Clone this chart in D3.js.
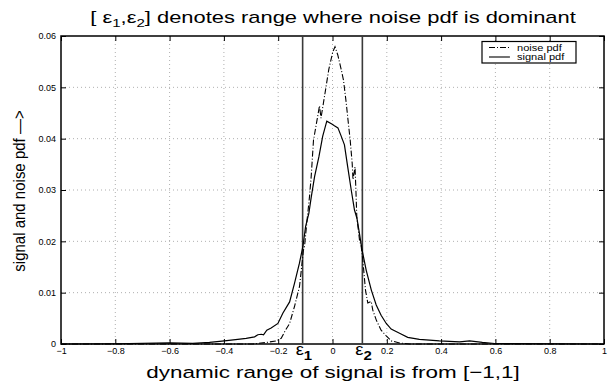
<!DOCTYPE html>
<html><head><meta charset="utf-8">
<script src="https://cdn.jsdelivr.net/npm/d3@7"></script>
<style>
html,body{margin:0;padding:0;background:#fff;}
svg{display:block;font-family:"Liberation Sans",Arial,Helvetica,sans-serif;}
</style></head>
<body><svg id="c" width="608" height="385"></svg>
<script>
// ---- data ----
const xTicks = [-1,-0.8,-0.6,-0.4,-0.2,0,0.2,0.4,0.6,0.8,1];
const yTicks = [0,0.01,0.02,0.03,0.04,0.05,0.06];
const epsilons = [-0.11, 0.11];
const epsLabels = ["1","2"];
const seriesNames = ["noise pdf","signal pdf"];

const signalX = [-1.0,-0.8,-0.6,-0.515,-0.453,-0.398,-0.349,-0.318,-0.287,-0.275,-0.262,-0.254,-0.242,-0.226,-0.201,-0.183,-0.158,-0.140,-0.122,-0.109,-0.099,-0.087,-0.078,-0.066,-0.050,-0.036,-0.021,-0.001,0.007,0.020,0.032,0.044,0.056,0.069,0.081,0.090,0.099,0.109,0.124,0.143,0.161,0.179,0.198,0.216,0.247,0.277,0.320,0.394,0.468,0.505,0.552,0.597,0.8,1.0];
const signalY = [0,0.00005,0.0002,0.00014,0.0003,0.0006,0.0009,0.0011,0.0014,0.0018,0.0019,0.0018,0.0027,0.0031,0.0040,0.0060,0.0082,0.0118,0.0157,0.0190,0.0229,0.0255,0.0287,0.0326,0.0365,0.0405,0.0434,0.0428,0.0425,0.0421,0.0405,0.0388,0.0345,0.0300,0.0261,0.0245,0.0216,0.0183,0.0144,0.0105,0.0076,0.0056,0.0040,0.0029,0.0021,0.0013,0.0009,0.0006,0.0004,0.0006,0.0003,0.0001,0.00005,0];

const noiseX = [-1.0,-0.6,-0.343,-0.294,-0.244,-0.207,-0.189,-0.173,-0.158,-0.140,-0.1215,-0.107,-0.103,-0.0947,-0.0847,-0.0785,-0.070,-0.0564,-0.0479,-0.0424,-0.0232,-0.0136,0.0011,0.0092,0.0195,0.0320,0.0405,0.0505,0.0564,0.0652,0.0725,0.0755,0.0830,0.0866,0.0895,0.0994,0.1057,0.1116,0.1215,0.130,0.1425,0.1484,0.161,0.179,0.198,0.217,0.247,0.284,0.6,1.0];
const noiseY = [0,0,0,0,0.0003,0.0006,0.0011,0.0027,0.0040,0.0073,0.0112,0.0183,0.0190,0.0236,0.0287,0.0326,0.0397,0.0438,0.0464,0.0440,0.0503,0.0535,0.0569,0.0579,0.0563,0.0535,0.0514,0.0470,0.0440,0.0397,0.0352,0.0320,0.0345,0.0294,0.0248,0.0203,0.0190,0.0164,0.0105,0.0080,0.0083,0.0066,0.0047,0.0027,0.0016,0.0006,0.0002,0,0,0];

// ---- layout ----
const svg = d3.select("#c");
const L = 61, R = 604, T = 36, B = 344;
const x = d3.scaleLinear().domain([-1,1]).range([L,R]);
const y = d3.scaleLinear().domain([0,0.06]).range([B,T]);

// grid
const grid = svg.append("g").attr("stroke","#9a9a9a").attr("stroke-width",0.8).attr("stroke-dasharray","1,3");
xTicks.slice(1,-1).forEach(v=>grid.append("line").attr("x1",x(v)).attr("x2",x(v)).attr("y1",T).attr("y2",B));
yTicks.slice(1,-1).forEach(v=>grid.append("line").attr("x1",L).attr("x2",R).attr("y1",y(v)).attr("y2",y(v)));

// axes (inward ticks, MATLAB style)
const fmt = v => (v<0?"\u2212":"") + d3.format("")(Math.abs(v));
svg.append("g").attr("transform",`translate(0,${B})`)
  .call(d3.axisBottom(x).tickValues(xTicks).tickSize(-5).tickPadding(4).tickFormat(fmt));
svg.append("g").attr("transform",`translate(${L},0)`)
  .call(d3.axisLeft(y).tickValues(yTicks).tickSize(-5).tickPadding(5).tickFormat(v=>v===0?"0":d3.format(".2f")(v)));
svg.append("g").attr("transform",`translate(0,${T})`)
  .call(d3.axisTop(x).tickValues(xTicks).tickSize(-5).tickFormat(""));
svg.append("g").attr("transform",`translate(${R},0)`)
  .call(d3.axisRight(y).tickValues(yTicks).tickSize(-5).tickFormat(""));
svg.selectAll(".domain").remove();
svg.selectAll(".tick text").attr("font-size",9).attr("font-family","Liberation Sans, Arial, sans-serif").attr("fill","#000");
svg.selectAll(".tick line").attr("stroke","#000");
svg.append("rect").attr("x",L).attr("y",T).attr("width",R-L).attr("height",B-T)
  .attr("fill","none").attr("stroke","#000").attr("stroke-width",1.5);

// epsilon lines
epsilons.forEach((e,i)=>{
  svg.append("line").attr("x1",x(e)).attr("x2",x(e)).attr("y1",T).attr("y2",B)
    .attr("stroke","#3a3a3a").attr("stroke-width",1.6);
  const t = svg.append("text").attr("transform",`translate(${x(e)-7},355) scale(1.15,1)`).attr("font-size",16).attr("fill","#000");
  t.append("tspan").text("\u03b5");
  t.append("tspan").attr("dy",5).attr("font-size",13).attr("font-weight","bold").text(epsLabels[i]);
});

// curves
const line = d3.line().x(d=>x(d[0])).y(d=>y(d[1]));
svg.append("path").datum(d3.zip(noiseX,noiseY)).attr("d",line)
  .attr("fill","none").attr("stroke","#000").attr("stroke-width",1.1).attr("stroke-dasharray","6,2,1,2");
svg.append("path").datum(d3.zip(signalX,signalY)).attr("d",line)
  .attr("fill","none").attr("stroke","#000").attr("stroke-width",1.2);

// legend
const lg = svg.append("g");
lg.append("rect").attr("x",482).attr("y",41.5).attr("width",94).attr("height",21.5)
  .attr("fill","#fff").attr("stroke","#000").attr("stroke-width",1.2);
["6,2,1,2", null].forEach((s,i)=>{
  const yy = 47.5 + i*9.5;
  const l = lg.append("line").attr("x1",489).attr("x2",510).attr("y1",yy).attr("y2",yy).attr("stroke","#000").attr("stroke-width",1.1);
  if(s) l.attr("stroke-dasharray",s);
  lg.append("text").attr("transform",`translate(517,${yy+3}) scale(1.3,1)`).attr("font-size",8.5).text(seriesNames[i]);
});

// title
const tt = svg.append("text").attr("transform",`translate(333,23) scale(1.37,1)`).attr("text-anchor","middle").attr("font-size",16);
tt.append("tspan").text("[ \u03b5");
tt.append("tspan").attr("dy",4).attr("font-size",11).text("1");
tt.append("tspan").attr("dy",-4).text(",\u03b5");
tt.append("tspan").attr("dy",4).attr("font-size",11).text("2");
tt.append("tspan").attr("dy",-4).text("] denotes range where noise pdf is dominant");

// x label
svg.append("text").attr("transform",`translate(333,378) scale(1.32,1)`).attr("text-anchor","middle").attr("font-size",17)
  .text("dynamic range of signal is from [\u22121,1]");
// y label
svg.append("text").attr("transform","translate(25,191) scale(1.15,1) rotate(-90)").attr("text-anchor","middle")
  .attr("font-size",15).text("signal and noise pdf \u2014>");
</script></body></html>
